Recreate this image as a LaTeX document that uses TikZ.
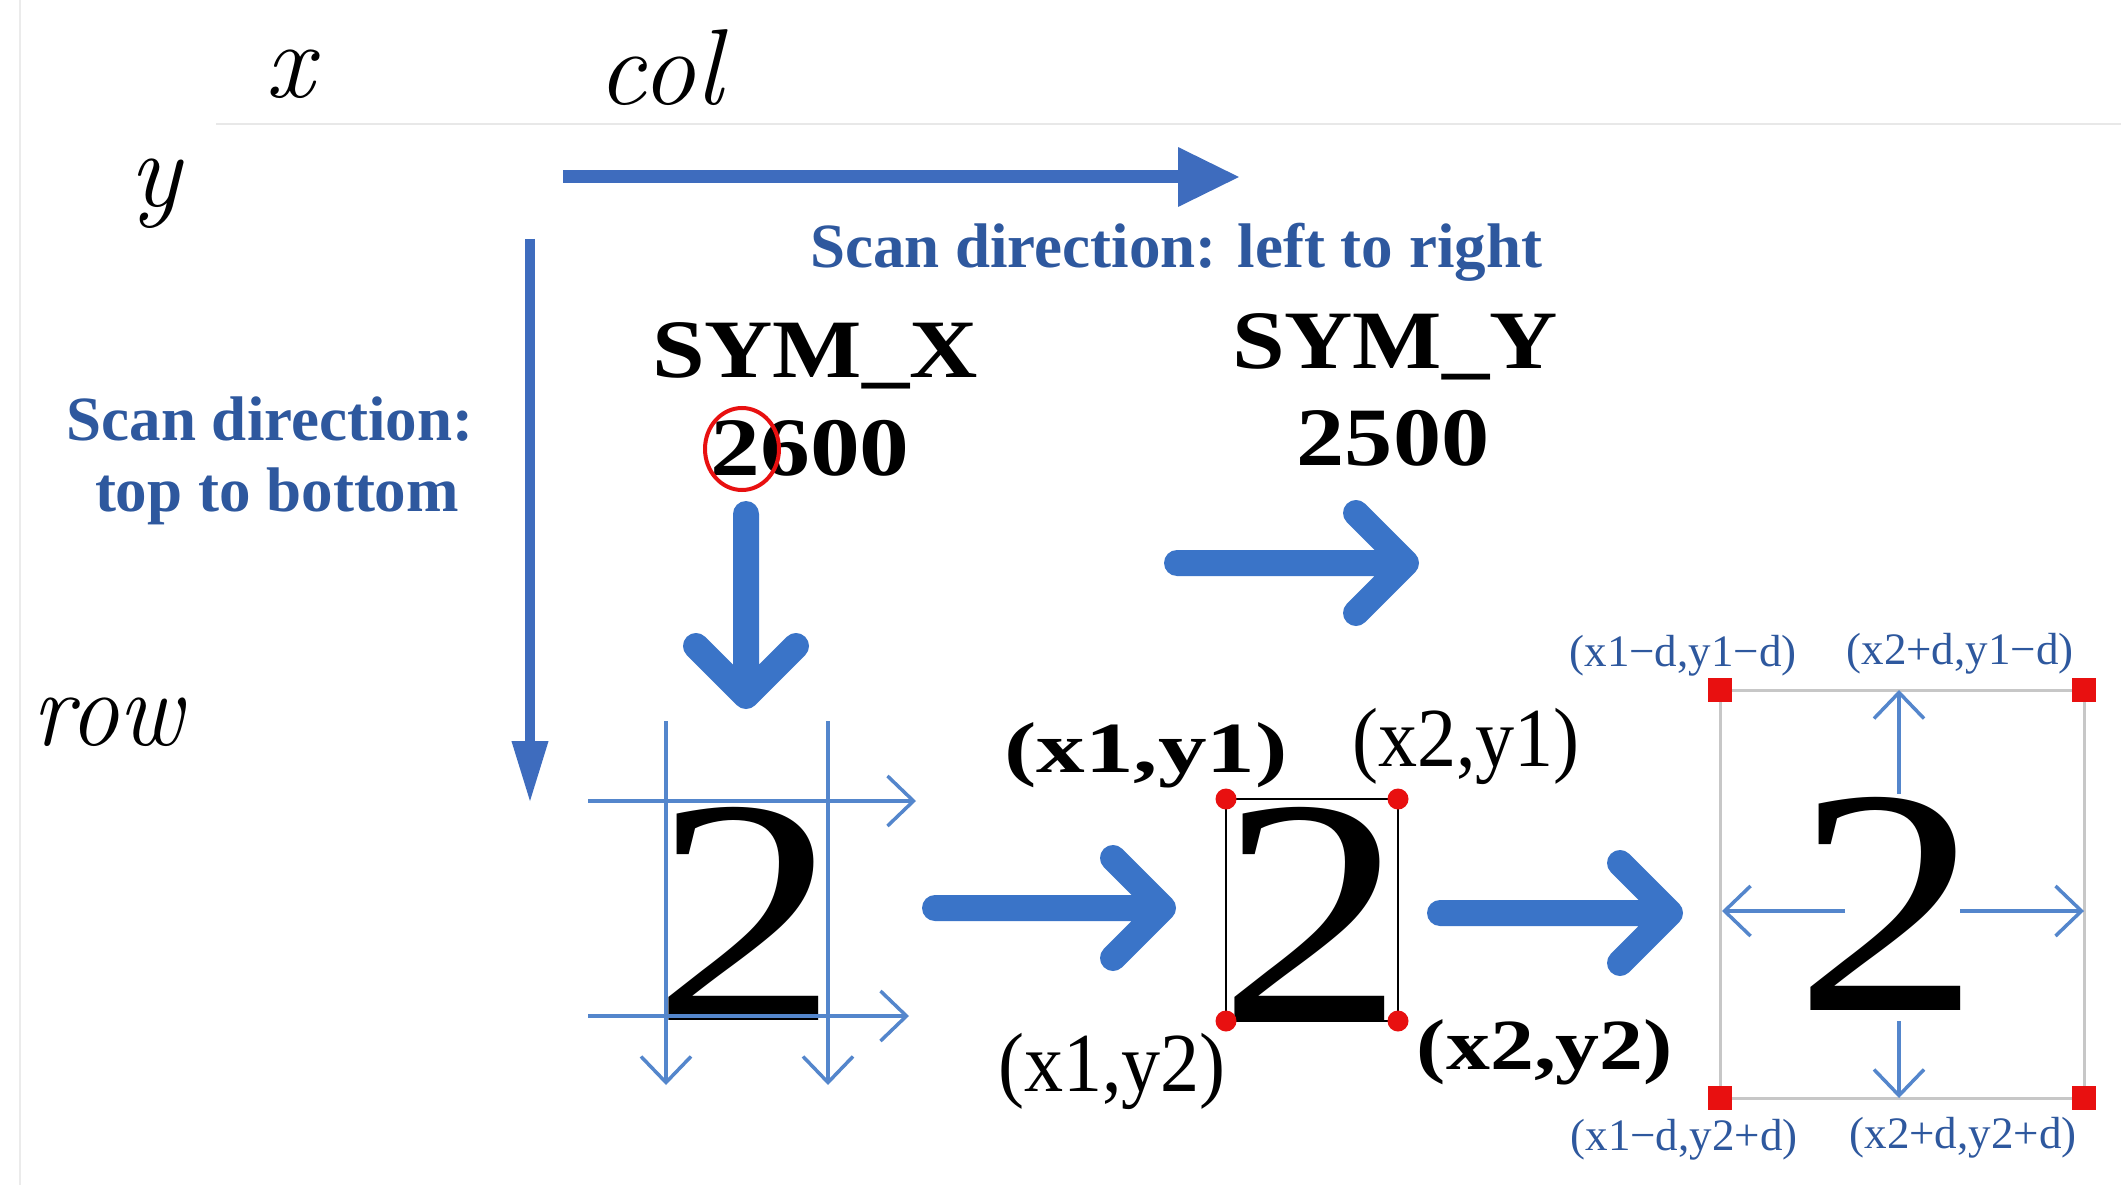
\documentclass[tikz,border=0pt]{standalone}
\usepackage{fontspec}
\setmainfont{Liberation Serif}
\newfontfamily\lmfont{Latin Modern Roman}
\usepackage{graphicx}
\usetikzlibrary{arrows.meta}
\definecolor{txtblue}{RGB}{46,88,158}
\definecolor{fatblue}{RGB}{58,116,200}
\definecolor{lineblue}{RGB}{84,134,204}
\definecolor{axblue}{RGB}{62,108,190}
\definecolor{dotred}{RGB}{232,16,16}
\tikzset{
  axlbl/.style={font=\fontsize{108}{108}\selectfont\lmfont\itshape, inner sep=0pt, anchor=base},
  bluetxt/.style={text=txtblue, font=\fontsize{63}{70}\selectfont\bfseries, inner sep=0pt, anchor=base},
  symtxt/.style={font=\fontsize{83}{83}\selectfont\bfseries, inner sep=0pt, anchor=base},
  bigtwo/.style={font=\fontsize{322}{322}\selectfont, inner sep=0pt, anchor=base},
  ptlbl/.style={font=\fontsize{84}{84}\selectfont, inner sep=0pt},
  ptlblb/.style={font=\fontsize{72}{72}\selectfont\bfseries, inner sep=0pt},
  cornlbl/.style={text=txtblue, font=\fontsize{45}{45}\selectfont, inner sep=0pt},
  fatarrow/.style={draw=fatblue, line width=26pt, line cap=round, line join=round},
  thinarrow/.style={draw=lineblue, line width=3.5pt, -{Straight Barb[length=26pt,width=50pt]}},
  reddot/.style={circle, fill=dotred, inner sep=0pt, minimum size=21pt},
  redsq/.style={rectangle, fill=dotred, inner sep=0pt, minimum size=24pt},
}
\begin{document}
\begin{tikzpicture}[x=1pt,y=-1pt]
\useasboundingbox[fill=white] (0,0) rectangle (2121,1185);
% faint frame lines
\draw[black!8, line width=2pt] (20,0) -- (20,1185);
\draw[black!9, line width=2pt] (216,124) -- (2121,124);
% axis labels
\node[axlbl] (lx) at (290,98) {x};
\node[axlbl] (lcol) at (660,105) {col};
\node[axlbl] (ly) at (155,207) {y};
\node[axlbl,xscale=1] (lrow) at (108,745) {\scalebox{0.92}[1]{row}};
% axis arrows
\coordinate (hs) at (563,177);
\coordinate (he) at (1240,177);
\draw[axblue, line width=13pt, -{Triangle[length=62pt,width=56pt]}] (hs) -- (he);
\coordinate (vs) at (530,239);
\coordinate (ve) at (530,803);
\draw[axblue, line width=10pt, -{Triangle[length=62pt,width=34pt]}] (vs) -- (ve);
% scan direction texts
\node[bluetxt] (sdh) at (1176,268) {Scan direction: left to right};
\node[bluetxt] (sdv1) at (270,440) {Scan direction:};
\node[bluetxt] (sdv2) at (277,511) {top to bottom};
% SYM labels
\node[symtxt] (symx) at (815,377) {\scalebox{1.14}[1]{SYM\_X}};
\node[symtxt] (numx) at (810,475) {\scalebox{1.2}[1]{2600}};
\node[symtxt] (symy) at (1395,368) {\scalebox{1.14}[1]{SYM\_Y}};
\node[symtxt] (numy) at (1393,465) {\scalebox{1.16}[1]{2500}};
\draw[dotred, line width=4pt] (742,449) ellipse [x radius=37, y radius=41];
% fat arrows
\coordinate (d0) at (746,514); \coordinate (d1) at (746,696);
\draw[fatarrow] (d0) -- (d1) (696,646) -- (d1) -- (796,646);
\coordinate (m0) at (1177,563); \coordinate (m1) at (1406,563);
\draw[fatarrow] (m0) -- (m1) (1356,513) -- (m1) -- (1356,613);
\coordinate (a0) at (935,908); \coordinate (a1) at (1163,908);
\draw[fatarrow] (a0) -- (a1) (1113,858) -- (a1) -- (1113,958);
\coordinate (b0) at (1440,913); \coordinate (b1) at (1670,913);
\draw[fatarrow] (b0) -- (b1) (1620,863) -- (b1) -- (1620,963);
% left 2 with scan lines
\node[bigtwo] (twoa) at (746,1020) {\scalebox{1.16}[1]{2}};
\coordinate (va1) at (666,721); \coordinate (va2) at (666,1085);
\coordinate (vb1) at (828,721); \coordinate (vb2) at (828,1085);
\coordinate (ha1) at (588,801); \coordinate (ha2) at (916,801);
\coordinate (hb1) at (588,1016); \coordinate (hb2) at (909,1016);
\draw[thinarrow] (va1) -- (va2);
\draw[thinarrow] (vb1) -- (vb2);
\draw[thinarrow] (ha1) -- (ha2);
\draw[thinarrow] (hb1) -- (hb2);
% middle 2 in box
\node[bigtwo] (twob) at (1312,1020) {\scalebox{1.16}[1]{2}};
\coordinate (c11) at (1226,799); \coordinate (c21) at (1398,799);
\coordinate (c12) at (1226,1021); \coordinate (c22) at (1398,1021);
\draw[black, line width=2.5pt] (c11) -- (c21) -- (c22) -- (c12) -- cycle;
\foreach \c in {c11,c21,c12,c22} \node[reddot] at (\c) {};
\node[ptlblb] (l11) at (1146,755) {\scalebox{1.35}[1]{(x1,y1)}};
\node[ptlbl] (l21) at (1466,746) {\scalebox{0.93}[1]{(x2,y1)}};
\node[ptlbl] (l12) at (1112,1071) {\scalebox{0.93}[1]{(x1,y2)}};
\node[ptlblb] (l22) at (1545,1052) {\scalebox{1.22}[1]{(x2,y2)}};
% right 2 in enlarged box
\node[bigtwo] (twoc) at (1888,1010) {\scalebox{1.16}[1]{2}};
\coordinate (e11) at (1720,690); \coordinate (e21) at (2084,690);
\coordinate (e12) at (1720,1098); \coordinate (e22) at (2084,1098);
\draw[black!22, line width=3pt] (e11) -- (e21) -- (e22) -- (e12) -- cycle;
\foreach \c in {e11,e21,e12,e22} \node[redsq] at (\c) {};
\coordinate (up0) at (1899,794); \coordinate (up1) at (1899,690);
\coordinate (dn0) at (1899,1021); \coordinate (dn1) at (1899,1098);
\coordinate (lf0) at (1845,911); \coordinate (lf1) at (1722,911);
\coordinate (rt0) at (1960,911); \coordinate (rt1) at (2084,911);
\draw[thinarrow] (up0) -- (up1);
\draw[thinarrow] (dn0) -- (dn1);
\draw[thinarrow] (lf0) -- (lf1);
\draw[thinarrow] (rt0) -- (rt1);
\node[cornlbl] (k11) at (1683,656) {(x1−d,y1−d)};
\node[cornlbl] (k21) at (1960,654) {(x2+d,y1−d)};
\node[cornlbl] (k12) at (1684,1140) {(x1−d,y2+d)};
\node[cornlbl] (k22) at (1963,1138) {(x2+d,y2+d)};
\end{tikzpicture}
\end{document}
